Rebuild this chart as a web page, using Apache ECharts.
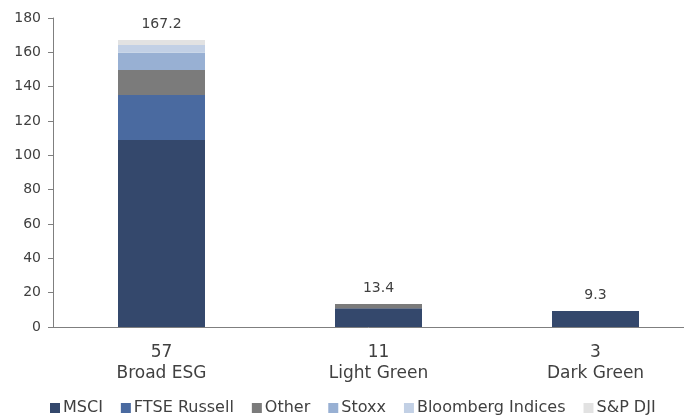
<!DOCTYPE html>
<html>
<head>
<meta charset="utf-8">
<script src="https://cdn.jsdelivr.net/npm/echarts@6/dist/echarts.min.js"></script>
<style>html,body{margin:0;padding:0;background:#fff}#c{width:684px;height:415px}</style>
</head>
<body>
<div id="c"></div>
<script>
const counts = ['57', '11', '3'];
const categories = ['Broad ESG', 'Light Green', 'Dark Green'];
const totals = [167.2, 13.4, 9.3];
const msci = [109.0, 10.9, 9.3];
const ftse = [26.1, 0, 0];
const other = [14.6, 2.5, 0];
const stoxx = [10.1, 0, 0];
const bloomberg = [4.4, 0, 0];
const spdji = [3.0, 0, 0];
const yTicks = [0, 20, 40, 60, 80, 100, 120, 140, 160, 180];

const seriesDefs = [
  { name: 'MSCI', data: msci, color: '#34486c' },
  { name: 'FTSE Russell', data: ftse, color: '#4a6aa0' },
  { name: 'Other', data: other, color: '#7b7b7b' },
  { name: 'Stoxx', data: stoxx, color: '#98b0d3' },
  { name: 'Bloomberg Indices', data: bloomberg, color: '#c2d0e5' },
  { name: 'S&P DJI', data: spdji, color: '#e2e2e2' }
];

const font = 'DejaVu Sans';
const txt = '#404040';

const series = seriesDefs.map(s => ({
  name: s.name,
  type: 'bar',
  stack: 'a',
  barWidth: 87,
  data: s.data,
  itemStyle: { color: s.color },
  emphasis: { disabled: true }
}));
series.push({
  name: 'Total',
  type: 'bar',
  stack: 'a',
  barWidth: 87,
  data: totals.map(() => 0),
  itemStyle: { color: 'transparent' },
  label: {
    show: true,
    position: 'top',
    distance: 9,
    formatter: p => totals[p.dataIndex].toFixed(1),
    fontFamily: font,
    fontSize: 14,
    color: txt
  }
});

const chart = echarts.init(document.getElementById('c'), null, { renderer: 'canvas' });
chart.setOption({
  animation: false,
  grid: { left: 53, width: 651, top: 18, height: 309, containLabel: false, outerBoundsMode: 'none' },
  legend: {
    data: seriesDefs.map(s => s.name),
    left: 50,
    top: 400,
    padding: 0,
    itemWidth: 10,
    itemHeight: 10,
    itemGap: 18,
    icon: 'rect',
    textStyle: { fontFamily: font, fontSize: 16, color: txt, padding: [0, 0, 0, -2] }
  },
  xAxis: {
    type: 'category',
    data: categories.map((c, i) => counts[i] + '\n' + c),
    axisLine: { lineStyle: { color: '#7f7f7f', width: 1 } },
    axisTick: { show: false },
    axisLabel: { fontFamily: font, fontSize: 17, color: txt, lineHeight: 21, margin: 15 }
  },
  yAxis: {
    type: 'value',
    min: yTicks[0],
    max: yTicks[yTicks.length - 1],
    interval: 20,
    splitLine: { show: false },
    axisLine: { show: true, lineStyle: { color: '#7f7f7f', width: 1 } },
    axisTick: { show: true, length: 5, lineStyle: { color: '#7f7f7f' } },
    axisLabel: { fontFamily: font, fontSize: 14, color: txt, margin: 12 }
  },
  series: series
});
</script>
</body>
</html>
